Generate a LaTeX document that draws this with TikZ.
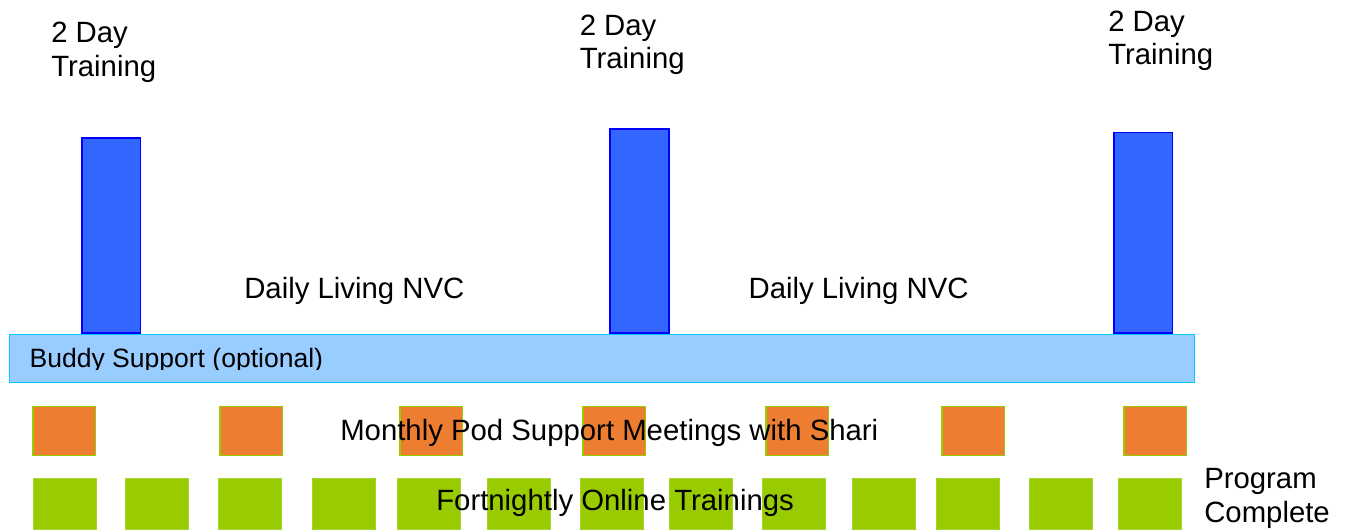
\documentclass[tikz,border=0pt]{standalone}
\usepackage{fontspec}
\setmainfont{Liberation Sans}
\definecolor{barblue}{HTML}{3366FF}
\definecolor{barblueline}{HTML}{0000FF}
\definecolor{buddyfill}{HTML}{99CCFF}
\definecolor{buddyline}{HTML}{00CCFF}
\definecolor{podorange}{HTML}{ED7D31}
\definecolor{lime}{HTML}{99CC00}
\definecolor{limeline}{HTML}{A6D42E}
\begin{document}
\begin{tikzpicture}[x=0.75pt,y=-0.75pt,
  trainbar/.style={fill=barblue,draw=barblueline,line width=1.2pt},
  buddybar/.style={fill=buddyfill,draw=buddyline,line width=1.3pt},
  podbox/.style={fill=podorange,draw=lime,line width=1.1pt},
  onlinebox/.style={fill=lime,draw=limeline,line width=0.6pt},
  lbl/.style={anchor=base west,inner sep=0pt,font=\fontsize{22pt}{26pt}\selectfont},
  smalllbl/.style={anchor=base west,inner sep=0pt,font=\fontsize{19.9pt}{24pt}\selectfont}]
\useasboundingbox (0,0) rectangle (1346,529);
% training bars
\draw[trainbar] (82,138) rectangle (140.5,333);
\draw[trainbar] (610,129) rectangle (669,333);
\draw[trainbar] (1114,132.5) rectangle (1172.5,333);
% training labels
\node[lbl] (t1a) at (51,42.7) {2 Day};
\node[lbl] (t1b) at (51,76.7) {Training};
\node[lbl] (t2a) at (579.5,35) {2 Day};
\node[lbl] (t2b) at (579.5,68.5) {Training};
\node[lbl] (t3a) at (1108,31) {2 Day};
\node[lbl] (t3b) at (1108,64.5) {Training};
% daily living
\node[lbl] (dl1) at (244,298.3) {Daily Living NVC};
\node[lbl] (dl2) at (748.3,298.3) {Daily Living NVC};
% buddy bar
\draw[buddybar] (9.5,334.5) rectangle (1194.5,382.5);
\begin{scope}
\clip (0,334) rectangle (1195,369.5);
\node[smalllbl] (buddy) at (29.3,367.7) {Buddy Support (optional)};
\end{scope}
% monthly pod squares
\foreach \x in {33,220,400,583,766,942,1124}
  \draw[podbox] (\x,406.5) rectangle ++(62.5,49);
\node[lbl] (pod) at (340,440.7) {Monthly Pod Support Meetings with Shari};
% fortnightly squares
\foreach \x in {33,125,218,312,397,487,580,669,762,852,936,1029,1118}
  \draw[onlinebox] (\x,478) rectangle ++(63,51);
\node[lbl] (online) at (436,510.3) {Fortnightly Online Trainings};
% program complete
\node[lbl] (pc1) at (1204,488.3) {Program};
\node[lbl] (pc2) at (1204,522.7) {Complete};
\end{tikzpicture}
\end{document}
